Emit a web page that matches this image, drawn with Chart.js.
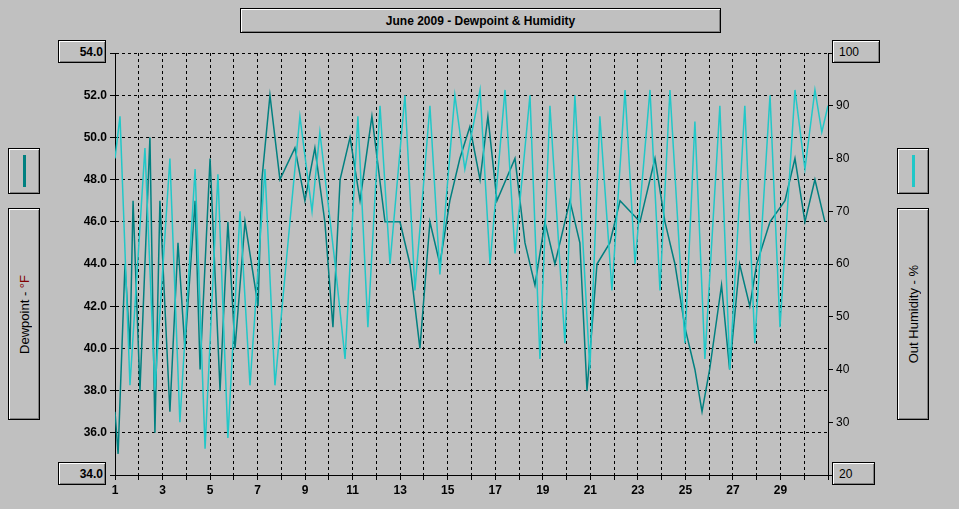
<!DOCTYPE html>
<html><head><meta charset="utf-8">
<script src="https://cdn.jsdelivr.net/npm/chart.js@4"></script>
<style>
body{margin:0;background:#c0c0c0;width:959px;height:509px;overflow:hidden;font-family:"Liberation Sans",Arial,sans-serif;}
#wrap{position:absolute;left:0;top:0;width:959px;height:509px;}
.box{position:absolute;background:#c0c0c0;border:1px solid #000;box-shadow:inset 1px 1px 0 #fff,inset -1px -1px 0 #808080;font-size:12px;display:flex;align-items:center;justify-content:center;}
.rot{writing-mode:vertical-rl;transform:rotate(180deg);font-size:13px;}
</style></head><body>
<div id="wrap"><canvas id="c" width="959" height="509"></canvas></div>
<div class="box" style="left:240px;top:8px;width:479px;height:23px;font-size:12px;font-weight:bold;">June 2009 - Dewpoint &amp; Humidity</div>
<div class="box" style="left:58px;top:40px;height:23px;justify-content:flex-end;padding-right:2px;box-sizing:border-box;width:48px;font-weight:bold;">54.0</div>
<div class="box" style="left:58px;top:462px;width:48px;height:23px;justify-content:flex-end;padding-right:2px;box-sizing:border-box;font-weight:bold;">34.0</div>
<div class="box" style="left:832px;top:40px;width:48px;height:23px;justify-content:flex-start;padding-left:6px;box-sizing:border-box;">100</div>
<div class="box" style="left:832px;top:462px;width:43px;height:23px;justify-content:flex-start;padding-left:6px;box-sizing:border-box;">20</div>
<div class="box" style="left:8px;top:148px;width:30px;height:44px;"><div style="width:3px;height:32px;background:#008080"></div></div>
<div class="box" style="left:8px;top:208px;width:30px;height:210px;"><span class="rot">Dewpoint - <span style="color:#800000">°F</span></span></div>
<div class="box" style="left:897px;top:148px;width:30px;height:44px;"><div style="width:3px;height:32px;background:#20c8c8"></div></div>
<div class="box" style="left:897px;top:208px;width:30px;height:210px;"><span class="rot">Out Humidity - %</span></div>
<script>
const dewDays=[1.0,1.13,1.42,1.63,1.76,2.05,2.47,2.68,2.89,3.31,3.65,3.94,4.37,4.58,5.0,5.42,5.75,6.05,6.47,7.02,7.18,7.52,7.94,8.57,8.99,9.41,9.83,10.17,10.47,10.89,11.31,11.81,12.36,12.99,13.41,13.83,14.25,14.67,15.09,15.51,15.93,16.36,16.69,17.07,17.83,18.25,18.67,19.09,19.51,20.14,20.56,20.86,21.28,21.82,22.25,23.09,23.72,24.14,24.56,24.98,25.40,25.70,26.02,26.52,26.86,27.28,27.71,28.0,28.56,29.19,29.61,30.03,30.45,30.87];
const dewVals=[37,35,44,40,47,38,50,36,47,37,45,40,47,39,49,38,46,40,46,42,48,52,48,49.5,47,49.5,46,41,48,50,47,51,46,46,44,40,46,44,47,49,50.5,48,51,47,49,45,43,46,44,47,45,38,44,45,47,46,49,46,44,41,39,37,39,43,39,44,42,44,46,47,49,46,48,46];
const humDays=[1.0,1.21,1.63,2.26,2.68,3.31,3.73,4.37,4.79,5.33,5.75,6.26,6.68,7.31,7.73,8.36,8.78,9.29,9.62,10.26,10.68,11.22,11.64,12.15,12.57,13.2,13.62,14.25,14.67,15.3,15.72,16.36,16.78,17.41,17.83,18.46,18.88,19.3,19.93,20.35,20.98,21.40,21.91,22.46,22.88,23.51,23.93,24.35,24.98,25.40,25.82,26.45,26.87,27.5,27.92,28.56,28.98,29.61,30.03,30.45,30.74,31.0];
const humVals=[80,88,37,82,36,80,30,78,25,77,27,70,37,78,37,68,88,70,85,60,42,88,48,90,60,92,55,90,58,92,78,93,60,93,62,92,42,90,45,92,40,88,55,93,60,93,55,93,45,87,42,90,40,90,45,92,48,93,78,93,85,90];
const xLabels=[1,3,5,7,9,11,13,15,17,19,21,23,25,27,29];
const pts=(a,b)=>a.map((d,i)=>({x:d,y:b[i]}));
new Chart(document.getElementById('c'),{type:'line',
data:{datasets:[
{data:pts(humDays,humVals),yAxisID:'y2',borderColor:'#20c8c8',borderWidth:1.5,pointRadius:0,tension:0},
{data:pts(dewDays,dewVals),yAxisID:'y',borderColor:'#008080',borderWidth:1.5,pointRadius:0,tension:0}]},
options:{responsive:false,animation:false,events:[],layout:{padding:{top:53,left:0,right:0,bottom:0}},
plugins:{legend:{display:false},tooltip:{enabled:false}},
scales:{
x:{type:'linear',min:1,max:31,afterFit:s=>{s.height=34},
 afterBuildTicks:s=>{s.ticks=[];for(let d=1;d<=31;d++)s.ticks.push({value:d});},
 ticks:{autoSkip:false,maxRotation:0,color:'#000',font:{family:'Liberation Sans',size:12,weight:'bold'},callback:v=>xLabels.includes(v)?String(v):''},
 grid:{color:'#000',tickLength:5},border:{color:'#000',dash:[3,3]}},
y:{min:34,max:54,afterFit:s=>{s.width=115},
 ticks:{stepSize:2,color:'#000',font:{family:'Liberation Sans',size:12,weight:'bold'},callback:v=>(v===34||v===54)?'':v.toFixed(1)},
 grid:{color:'#000',tickLength:5},border:{color:'#000',dash:[3,3]}},
y2:{position:'right',min:20,max:100,afterFit:s=>{s.width=131},
 ticks:{stepSize:10,color:'#000',font:{family:'Liberation Sans',size:12},callback:v=>(v===20||v===100)?'':v},
 grid:{drawOnChartArea:false,color:'#000',tickLength:5},border:{color:'#000'}}}}});
</script></body></html>
